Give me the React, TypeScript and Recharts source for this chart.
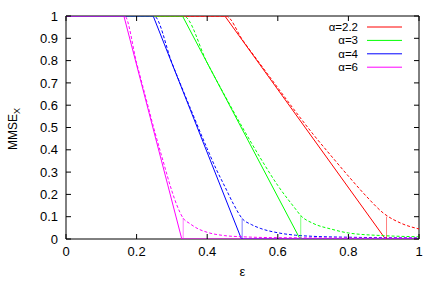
import React from 'react';
import { LineChart, Line, XAxis, YAxis, Legend, ReferenceArea, Label } from 'recharts';

const labels = ['α=2.2', 'α=3', 'α=4', 'α=6'];
const colors = ['#ff0000', '#00ff00', '#0000ff', '#ff00ff'];

const epsTicks = [0, 0.2, 0.4, 0.6, 0.8, 1];
const mmseTicks = [0, 0.1, 0.2, 0.3, 0.4, 0.5, 0.6, 0.7, 0.8, 0.9, 1];

// solid curves: stay at 1, fall linearly, then stay at 0
const solidEps22 = [0, 0.45, 0.905, 1];
const solidEps3 = [0, 0.33, 0.663, 1];
const solidEps4 = [0, 0.247, 0.497, 1];
const solidEps6 = [0, 0.164, 0.328, 1];
const solidMmse = [1, 1, 0, 0];

// dashed curves
const dashEps22 = [0, 0.453, 0.5, 0.55, 0.6, 0.65, 0.7, 0.75, 0.8, 0.85, 0.9, 0.95, 1];
const dashMmse22 = [1, 1, 0.893, 0.785, 0.678, 0.572, 0.47, 0.375, 0.282, 0.193, 0.115, 0.07, 0.045];
const dashEps3 = [0, 0.333, 0.4, 0.45, 0.5, 0.55, 0.6, 0.65, 0.665, 0.7, 0.75, 0.8, 0.9, 1];
const dashMmse3 = [1, 1, 0.79, 0.643, 0.5, 0.365, 0.24, 0.135, 0.105, 0.07, 0.045, 0.027, 0.015, 0.01];
const dashEps4 = [0, 0.249, 0.3, 0.35, 0.4, 0.425, 0.45, 0.475, 0.5, 0.525, 0.55, 0.6, 0.65, 0.7, 0.8, 1];
const dashMmse4 = [1, 1, 0.79, 0.595, 0.405, 0.315, 0.235, 0.155, 0.09, 0.065, 0.048, 0.028, 0.017, 0.012, 0.008, 0.005];
const dashEps6 = [0, 0.166, 0.2, 0.225, 0.25, 0.275, 0.3, 0.315, 0.332, 0.35, 0.375, 0.4, 0.45, 0.5, 0.6, 1];
const dashMmse6 = [1, 1, 0.79, 0.64, 0.49, 0.35, 0.215, 0.148, 0.093, 0.07, 0.045, 0.03, 0.015, 0.01, 0.006, 0.004];

// thin vertical markers where the solid curve reaches zero
const markEps = [0.908, 0.665, 0.499, 0.332];
const markTop = [0.1, 0.104, 0.09, 0.093];

const toPts = (xs: number[], ys: number[]) => xs.map((x, i) => ({ eps: x, mmse: ys[i] }));

const solids = [
  toPts(solidEps22, solidMmse),
  toPts(solidEps3, solidMmse),
  toPts(solidEps4, solidMmse),
  toPts(solidEps6, solidMmse),
];
const dashes = [
  toPts(dashEps22, dashMmse22),
  toPts(dashEps3, dashMmse3),
  toPts(dashEps4, dashMmse4),
  toPts(dashEps6, dashMmse6),
];
const marks = markEps.map((e, i) => toPts([e, e], [0, markTop[i]]));

const FONT = '"Liberation Sans", Arial, sans-serif';
const PLOT_W = 353;
const PLOT_H = 223;
const TICK = 5;

const XTick = (props: any) => {
  const { x, y, payload } = props;
  const base = y - 8;
  return (
    <g>
      <line x1={x} x2={x} y1={base} y2={base - TICK} stroke="#000" />
      <line x1={x} x2={x} y1={base - PLOT_H} y2={base - PLOT_H + TICK} stroke="#000" />
      <text x={x} y={y} dy="0.71em" textAnchor="middle" fontFamily={FONT} fontSize={13} fill="#000">
        {payload.value}
      </text>
    </g>
  );
};

const YTick = (props: any) => {
  const { x, y, payload } = props;
  const base = x + 8;
  return (
    <g>
      <line x1={base} x2={base + TICK} y1={y} y2={y} stroke="#000" />
      <line x1={base + PLOT_W} x2={base + PLOT_W - TICK} y1={y} y2={y} stroke="#000" />
      <text x={x} y={y} dy="0.355em" textAnchor="end" fontFamily={FONT} fontSize={13} fill="#000">
        {payload.value}
      </text>
    </g>
  );
};

const KeyBox = () => (
  <svg width={443} height={80}>
    {labels.map((l, i) => {
      const y = 27 + i * 13.4;
      return (
        <g key={l}>
          <text x={358} y={y} dy="0.355em" textAnchor="end" fontFamily={FONT} fontSize={11.5} fill="#000">
            {l}
          </text>
          <line x1={367} x2={402} y1={y} y2={y} stroke={colors[i]} strokeWidth={1} />
        </g>
      );
    })}
  </svg>
);

export default function App() {
  return (
    <div style={{ position: 'absolute', left: 0, top: 0, width: 443, height: 282, background: '#fff' }}>
      <LineChart width={443} height={282} margin={{ top: 16, right: 24, bottom: 3, left: 6 }}>
        <XAxis
          dataKey="eps"
          type="number"
          domain={[0, 1]}
          ticks={epsTicks}
          interval={0}
          tickSize={0}
          tickMargin={8}
          height={40}
          axisLine={false}
          tick={<XTick />}
          allowDataOverflow
        >
          <Label
            content={(p: any) => (
              <text x={p.viewBox.x + p.viewBox.width / 2} y={p.viewBox.y + 37} textAnchor="middle" fontFamily={FONT} fontSize={13} fill="#000">
                ε
              </text>
            )}
          />
        </XAxis>
        <YAxis
          type="number"
          domain={[0, 1]}
          ticks={mmseTicks}
          interval={0}
          tickSize={0}
          tickMargin={8}
          width={60}
          axisLine={false}
          tick={<YTick />}
          allowDataOverflow
        >
          <Label
            content={(p: any) => {
              const tx = p.viewBox.x + 11;
              const ty = p.viewBox.y + 134;
              return (
                <text x={tx} y={ty} transform={`rotate(-90 ${tx} ${ty})`} textAnchor="start" fontFamily={FONT} fontSize={12} fill="#000">
                  <tspan>MMSE</tspan>
                  <tspan dy={3} fontSize={9}>X</tspan>
                </text>
              );
            }}
          />
        </YAxis>
        <ReferenceArea x1={0} x2={1} y1={0} y2={1} fill="none" stroke="#000" strokeWidth={1} ifOverflow="visible" />
        {labels.map((l, i) => (
          <Line
            key={'s' + l}
            data={solids[i]}
            dataKey="mmse"
            name={l}
            type="linear"
            stroke={colors[i]}
            strokeWidth={1}
            dot={false}
            activeDot={false}
            isAnimationActive={false}
          />
        ))}
        {labels.map((l, i) => (
          <Line
            key={'d' + l}
            data={dashes[i]}
            dataKey="mmse"
            name={l + ' dashed'}
            type="monotone"
            stroke={colors[i]}
            strokeWidth={1}
            strokeDasharray="3 2"
            dot={false}
            activeDot={false}
            isAnimationActive={false}
            legendType="none"
          />
        ))}
        {labels.map((l, i) => (
          <Line
            key={'m' + l}
            data={marks[i]}
            dataKey="mmse"
            name={l + ' mark'}
            type="linear"
            stroke={colors[i]}
            strokeOpacity={0.5}
            strokeWidth={1}
            dot={false}
            activeDot={false}
            isAnimationActive={false}
            legendType="none"
          />
        ))}
        <Legend
          layout="horizontal"
          verticalAlign="middle"
          align="center"
          wrapperStyle={{ left: 0, top: 0, width: 443, height: 80 }}
          content={() => <KeyBox />}
        />
      </LineChart>
    </div>
  );
}
